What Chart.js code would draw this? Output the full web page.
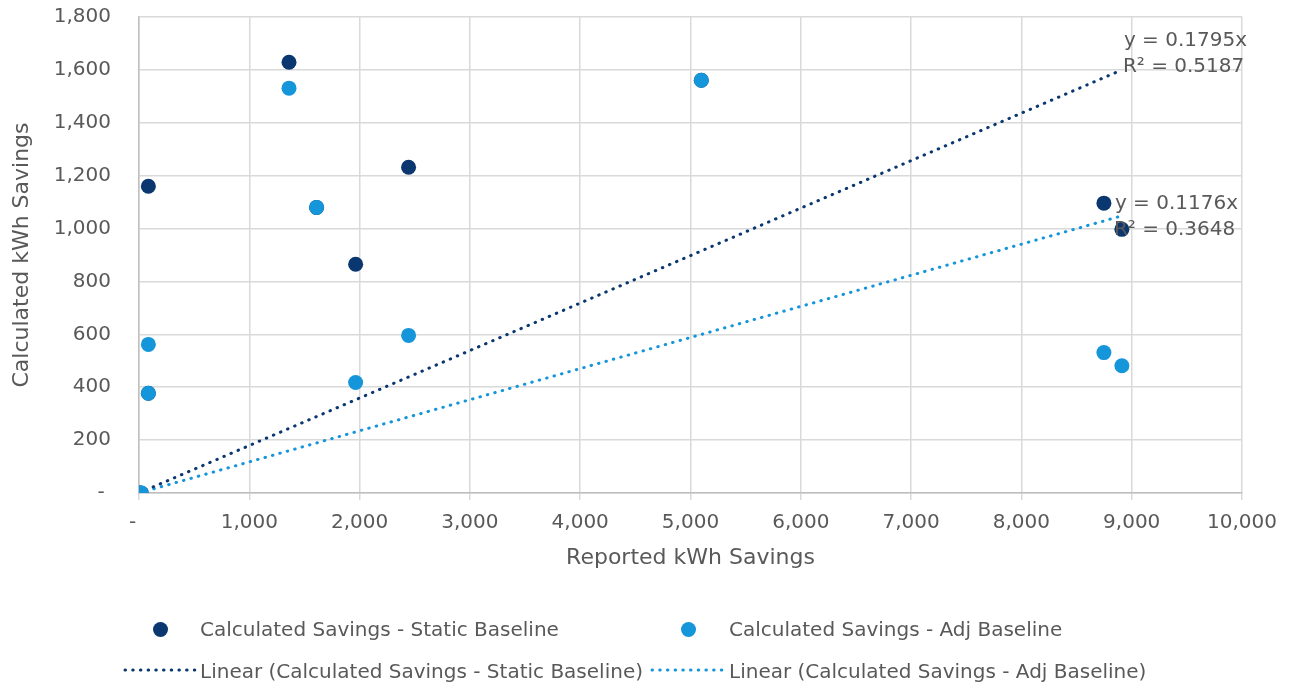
<!DOCTYPE html>
<html><head><meta charset="utf-8">
<script src="https://cdn.jsdelivr.net/npm/chart.js@4/dist/chart.umd.min.js"></script>
<style>
html,body{margin:0;padding:0;background:#fff;}
#wrap{position:relative;width:1292px;height:687px;overflow:hidden;}
#c{position:absolute;left:0;top:0;}
.lg{position:absolute;font-family:'DejaVu Sans';font-size:20px;color:#595959;line-height:24px;white-space:nowrap;}
.dot{position:absolute;width:15px;height:15px;border-radius:50%;}
svg{position:absolute;}
</style></head><body>
<div id="wrap"><canvas id="c" width="1292" height="687"></canvas><div id="legend"></div></div>
<script>
// ---- data ----
const reportedX   = [0, 20, 85, 85, 1360, 1610, 1964, 2444, 5098, 8748, 8911];
const staticSavings = [0, 0, 1160, 377, 1629, 1080, 865, 1232, 1561, 1096, 997];
const adjSavings    = [0, 0, 562, 377, 1531, 1080, 418, 596, 1561, 531, 481];
const trendX        = [0, 8911];
const staticTrendY  = [0, 1600];
const adjTrendY     = [0, 1048];
const xTickLabels = ['-  ','1,000','2,000','3,000','4,000','5,000','6,000','7,000','8,000','9,000','10,000'];
const yTickLabels = ['- ','200','400','600','800','1,000','1,200','1,400','1,600','1,800'];
const seriesNames = ['Calculated Savings - Static Baseline','Calculated Savings - Adj Baseline'];
const trendNames  = ['Linear (Calculated Savings - Static Baseline)','Linear (Calculated Savings - Adj Baseline)'];
const trendText   = [['y = 0.1795x','R\u00B2 = 0.5187'],['y = 0.1176x','R\u00B2 = 0.3648']];

const DARK = '#0a376f', LIGHT = '#1595da', TXT = '#595959', FONT = 'DejaVu Sans';
const pts = ys => reportedX.map((x,i)=>({x:x,y:ys[i]}));
const tpts = ys => trendX.map((x,i)=>({x:x,y:ys[i]}));

const trendLabelPlugin = {
  id:'trendLabels',
  afterDatasetsDraw(chart){
    const {ctx, scales:{x,y}} = chart;
    const ends = [staticTrendY, adjTrendY];
    const offs = [[2,-29],[-7,-12]];
    ctx.save();
    ctx.font = '20px "'+FONT+'"';
    ctx.fillStyle = TXT; ctx.textAlign='left'; ctx.textBaseline='middle';
    trendText.forEach((t,i)=>{
      const px = x.getPixelForValue(trendX[1]), py = y.getPixelForValue(ends[i][1]);
      ctx.fillText(t[0], px+offs[i][0], py+offs[i][1]);
      ctx.fillText(t[1], px+offs[i][0]-1, py+offs[i][1]+26);
    });
    ctx.restore();
  }
};

new Chart(document.getElementById('c'), {
  type:'scatter',
  data:{datasets:[
    {label:seriesNames[1], data:pts(adjSavings), backgroundColor:LIGHT, borderWidth:0, pointRadius:7.5, order:1},
    {label:seriesNames[0], data:pts(staticSavings), backgroundColor:DARK, borderWidth:0, pointRadius:7.5, order:2},
    {type:'line', label:trendNames[0], data:tpts(staticTrendY), borderColor:DARK, borderWidth:3, borderDash:[0.5,7.2], borderCapStyle:'round', pointRadius:0, fill:false, order:3},
    {type:'line', label:trendNames[1], data:tpts(adjTrendY), borderColor:LIGHT, borderWidth:3, borderDash:[0.5,7.2], borderCapStyle:'round', pointRadius:0, fill:false, order:4}
  ]},
  options:{
    responsive:false, animation:false,
    layout:{padding:{left:0,right:50,top:17,bottom:0}},
    plugins:{legend:{display:false}, tooltip:{enabled:false}},
    scales:{
      x:{type:'linear', min:0, max:10000,
        ticks:{stepSize:1000, color:TXT, font:{family:FONT,size:20}, padding:11, maxRotation:0,
          callback:(v,i)=>xTickLabels[i]},
        grid:{color:'#d9d9d9', lineWidth:1.5, tickLength:7},
        border:{color:'#bfbfbf', width:1.5},
        title:{display:true, text:'Reported kWh Savings', color:TXT, font:{family:FONT,size:22}, padding:{top:0,bottom:116}},
        afterFit:s=>{s.height = 687-493;}
      },
      y:{type:'linear', min:0, max:1800,
        ticks:{stepSize:200, color:TXT, font:{family:FONT,size:20}, padding:4,
          callback:(v,i)=>yTickLabels[i]},
        grid:{color:'#d9d9d9', lineWidth:1.5, drawTicks:true, tickLength:24, tickColor:'rgba(0,0,0,0)'},
        border:{color:'#bfbfbf', width:1.5},
        title:{display:true, text:'Calculated kWh Savings', color:TXT, font:{family:FONT,size:22}, padding:{top:9,bottom:0}},
        afterFit:s=>{s.width = 139;}
      }
    }
  },
  plugins:[trendLabelPlugin]
});

// ---- legend (HTML) ----
const lg = document.getElementById('legend');
const colors = [DARK, LIGHT];
const colLeft = [200, 729];
const dotX = [160, 688];
const lineX = [[125,195],[652,722]];
seriesNames.forEach((n,i)=>{
  const d=document.createElement('div'); d.className='dot';
  d.style.left=(dotX[i]-7.5)+'px'; d.style.top=(629-7.5)+'px'; d.style.background=colors[i]; lg.appendChild(d);
  const t=document.createElement('div'); t.className='lg'; t.textContent=n;
  t.style.left=colLeft[i]+'px'; t.style.top=(629-12)+'px'; lg.appendChild(t);
});
trendNames.forEach((n,i)=>{
  const w = lineX[i][1]-lineX[i][0];
  const s=document.createElementNS('http://www.w3.org/2000/svg','svg');
  s.setAttribute('width',w+6); s.setAttribute('height',10);
  s.style.left=(lineX[i][0]-3)+'px'; s.style.top=(670-5)+'px';
  s.innerHTML='<line x1="3" y1="5" x2="'+(w+3)+'" y2="5" stroke="'+colors[i]+'" stroke-width="3" stroke-linecap="round" stroke-dasharray="0.5 7.2"/>';
  lg.appendChild(s);
  const t=document.createElement('div'); t.className='lg'; t.textContent=n;
  t.style.left=colLeft[i]+'px'; t.style.top=(671-12)+'px'; lg.appendChild(t);
});
</script>
</body></html>
